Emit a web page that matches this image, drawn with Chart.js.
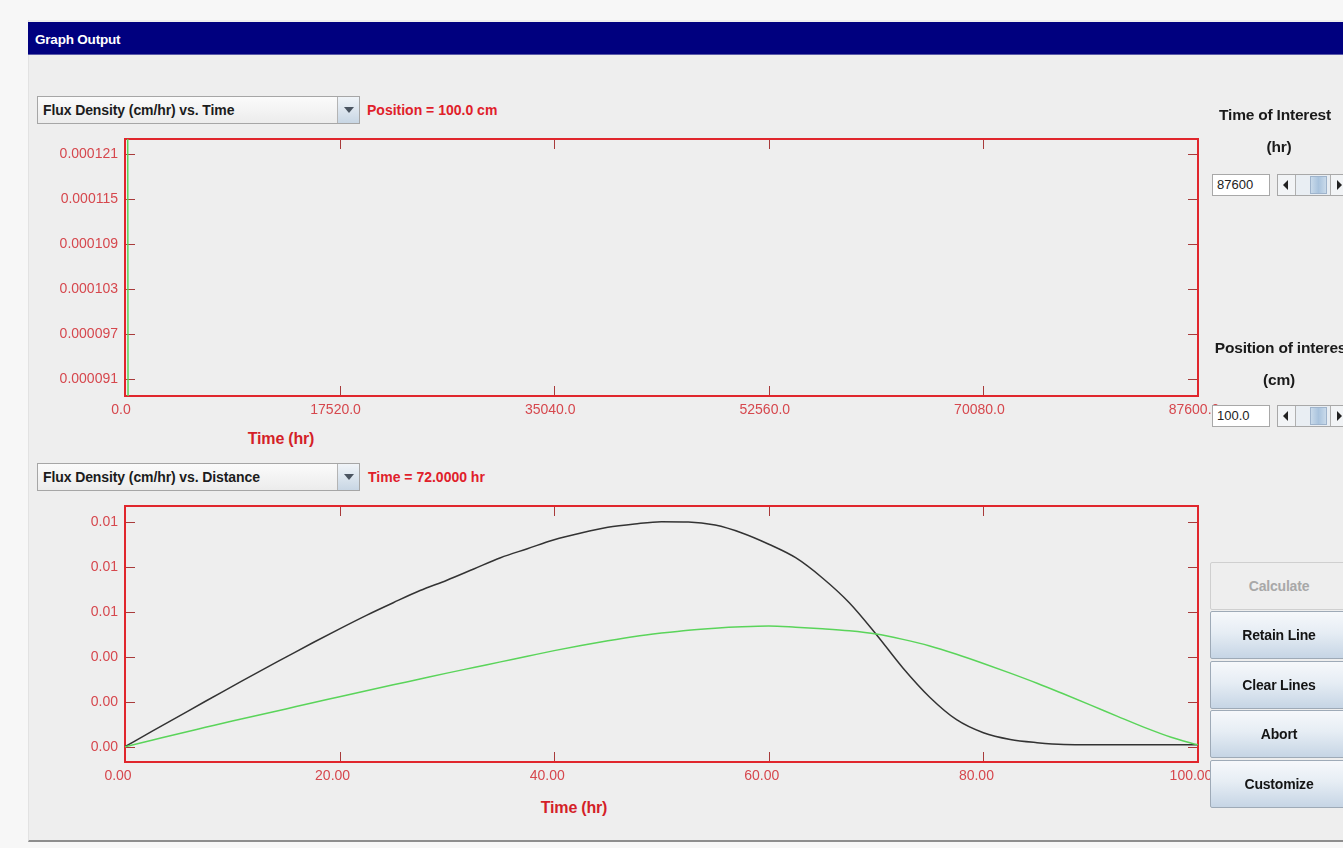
<!DOCTYPE html>
<html>
<head>
<meta charset="utf-8">
<title>Graph Output</title>
<script src="https://cdn.jsdelivr.net/npm/chart.js@4/dist/chart.umd.min.js"></script>
<style>
  html, body { margin: 0; padding: 0; }
  body {
    width: 1343px; height: 848px; overflow: hidden; position: relative;
    background: #f7f7f7;
    font-family: "Liberation Sans", Arial, sans-serif;
  }
  .panel {
    position: absolute; left: 28px; top: 20px; width: 1315px; height: 820px;
    background: #eeeeee; border-bottom: 2px solid #8e8e8e; border-left: 1px solid #e2e2e2;
  }
  .titlebar {
    position: absolute; left: 28px; top: 22px; width: 1315px; height: 33px;
    background: #00007f; border-bottom: 1px solid #5a5aa8; box-sizing: border-box;
  }
  .titlebar span {
    position: absolute; left: 7px; top: 0; line-height: 36px;
    color: #fff; font-weight: bold; font-size: 13.5px; letter-spacing: -0.2px;
  }
  .combo {
    position: absolute; left: 37px; width: 323px; height: 28px; box-sizing: border-box;
    border: 1px solid #a6a6a6; background: linear-gradient(#fbfbfb, #ececec);
  }
  .combo .txt {
    position: absolute; left: 5px; top: 0; line-height: 26px;
    font-weight: bold; font-size: 14px; color: #1c1c1c; letter-spacing: -0.1px; white-space: nowrap;
  }
  .combo .arrow {
    position: absolute; right: 0; top: 0; width: 22px; height: 26px; box-sizing: border-box;
    border-left: 1px solid #b4b4b4; background: linear-gradient(#f0f4f8, #c8d6e4);
  }
  .combo .arrow::after {
    content: ""; position: absolute; left: 6px; top: 10px;
    border-left: 5px solid transparent; border-right: 5px solid transparent; border-top: 6px solid #4a5460;
  }
  .redlbl {
    position: absolute; color: #e0202a; font-weight: bold; font-size: 14px; white-space: nowrap;
  }
  .axtitle {
    position: absolute; color: #d41f28; font-weight: bold; font-size: 16px; white-space: nowrap;
    transform: translate(-50%, -50%); letter-spacing: -0.2px;
  }
  .side {
    position: absolute; font-weight: bold; font-size: 15.5px; color: #1a1a1a; white-space: nowrap;
    transform: translate(-50%, -50%); letter-spacing: -0.2px;
  }
  .field {
    position: absolute; left: 1212px; width: 58px; height: 22px; box-sizing: border-box;
    background: #fff; border: 1px solid #a8a8a8; font-size: 13px; color: #222;
    padding-left: 4px; line-height: 20px; z-index: 3;
  }
  .sb {
    position: absolute; left: 1277px; width: 80px; height: 22px; box-sizing: border-box;
    border: 1px solid #a8a8a8; background: #e9eef3; z-index: 3;
  }
  .sb .la, .sb .ra {
    position: absolute; top: 0; width: 18px; height: 20px; box-sizing: border-box; background: #f2f4f6;
  }
  .sb .la { left: 0; border-right: 1px solid #b0b0b0; }
  .sb .ra { left: 52px; border-left: 1px solid #b0b0b0; }
  .sb .la::after {
    content: ""; position: absolute; left: 5px; top: 5px;
    border-top: 5px solid transparent; border-bottom: 5px solid transparent; border-right: 5px solid #222;
  }
  .sb .ra::after {
    content: ""; position: absolute; left: 6px; top: 5px;
    border-top: 5px solid transparent; border-bottom: 5px solid transparent; border-left: 5px solid #222;
  }
  .sb .th {
    position: absolute; left: 32px; top: 1px; width: 17px; height: 18px; box-sizing: border-box;
    border: 1px solid #9fb4cc; background: linear-gradient(90deg, #c9daea, #a9c3dd, #c9daea);
  }
  .btn {
    position: absolute; left: 1210px; width: 138px; height: 48px; box-sizing: border-box;
    border: 1px solid #9eaab7; border-radius: 2px;
    background: linear-gradient(#f6f8fb 0%, #e6edf4 45%, #c6d5e5 100%);
    font-weight: bold; font-size: 14px; color: #141414; text-align: center; line-height: 46px;
    letter-spacing: -0.2px; z-index: 3;
  }
  .btn.off { background: #eeeeee; color: #a8a8a8; border-color: #cfcfcf; }
  canvas { position: absolute; }
</style>
</head>
<body>
<div class="panel"></div>
<div class="titlebar"><span>Graph Output</span></div>

<div class="combo" style="top:96px;"><div class="txt">Flux Density (cm/hr) vs. Time</div><div class="arrow"></div></div>
<div class="redlbl" style="left:367px; top:102px;">Position = 100.0 cm</div>

<canvas id="timeChart" width="1200" height="311" style="left:30px; top:119px;"></canvas>
<div class="axtitle" style="left:281px; top:439px;">Time (hr)</div>

<div class="combo" style="top:463px;"><div class="txt">Flux Density (cm/hr) vs. Distance</div><div class="arrow"></div></div>
<div class="redlbl" style="left:368px; top:469px;">Time = 72.0000 hr</div>

<canvas id="distChart" width="1200" height="311" style="left:30px; top:486px;"></canvas>
<div class="axtitle" style="left:574px; top:808px;">Time (hr)</div>

<div class="side" style="left:1275px; top:115px;">Time of Interest</div>
<div class="side" style="left:1279px; top:147px;">(hr)</div>
<div class="field" style="top:174px;">87600</div>
<div class="sb" style="top:174px;"><div class="la"></div><div class="th"></div><div class="ra"></div></div>

<div class="side" style="left:1283px; top:348px;">Position of interest</div>
<div class="side" style="left:1279px; top:380px;">(cm)</div>
<div class="field" style="top:405px;">100.0</div>
<div class="sb" style="top:405px;"><div class="la"></div><div class="th"></div><div class="ra"></div></div>

<div class="btn off" style="top:562px;">Calculate</div>
<div class="btn" style="top:611px;">Retain Line</div>
<div class="btn" style="top:661px;">Clear Lines</div>
<div class="btn" style="top:710px;">Abort</div>
<div class="btn" style="top:760px;">Customize</div>

<script>
// Flux density at position 100 cm over the simulated period (hr)
const timeTicks = [0, 17520, 35040, 52560, 70080, 87600];
const timeFluxTicks = [0.000091, 0.000097, 0.000103, 0.000109, 0.000115, 0.000121];
const timeHours = [220, 250, 87600];
const timeFlux = [0.000126, 0.000086, 0.000080];

// Flux density profile along the column (distance in cm)
const distTicks = [0, 20, 40, 60, 80, 100];
const distFluxTicks = [0, 0.002, 0.004, 0.006, 0.008, 0.010];
const distance = [0, 2.5, 5, 7.5, 10, 12.5, 15, 17.5, 20, 22.5, 25, 27.5, 30, 32.5, 35, 37.5, 40,
  42.5, 45, 47.5, 50, 52.5, 55, 57.5, 60, 62.5, 65, 67.5, 70, 72.5, 75, 77.5, 80, 82.5, 85, 87.5,
  90, 92.5, 95, 97.5, 100];
// current line, Time = 72 hr
const fluxCurrent = [0, 0.00068, 0.00135, 0.00202, 0.00268, 0.00334, 0.00398, 0.00462, 0.00524,
  0.00584, 0.0064, 0.00694, 0.0074, 0.0079, 0.0084, 0.0088, 0.0092, 0.0095, 0.00975, 0.0099, 0.0100,
  0.00999, 0.00985, 0.0095, 0.0090, 0.0084, 0.0075, 0.0064, 0.0050, 0.0035, 0.0022, 0.0012, 0.00062,
  0.00032, 0.00018, 0.0001, 0.00009, 0.00009, 0.00009, 0.00009, 0.00009];
// retained line
const fluxRetained = [0, 0.00029, 0.00058, 0.00086, 0.00114, 0.00141, 0.00168, 0.00195, 0.00222,
  0.00249, 0.00275, 0.00301, 0.00327, 0.00352, 0.00377, 0.00402, 0.00427, 0.0045, 0.00471, 0.0049,
  0.00505, 0.00518, 0.00527, 0.00533, 0.00536, 0.00531, 0.00524, 0.00515, 0.00501, 0.00477, 0.00448,
  0.00411, 0.0037, 0.00327, 0.00282, 0.00234, 0.00185, 0.00135, 0.00086, 0.00042, 0.00008];

const FRAME = '#e0262c';
const TICKMARK = '#a83a3a';
const LABEL = '#d6474d';
const tickFont = { family: '"Liberation Sans", Arial, sans-serif', size: 14 };

// red box around the plot area with short inward tick marks on all four sides
const framePlugin = {
  id: 'frame',
  beforeDatasetsDraw(chart) {
    const { ctx, chartArea: a, scales: { x, y } } = chart;
    ctx.save();
    ctx.strokeStyle = TICKMARK;
    ctx.lineWidth = 1;
    ctx.beginPath();
    x.ticks.forEach((t, i) => {
      const px = Math.round(x.getPixelForTick(i)) + 0.5;
      ctx.moveTo(px, a.top); ctx.lineTo(px, a.top + 10);
      ctx.moveTo(px, a.bottom); ctx.lineTo(px, a.bottom - 10);
    });
    y.ticks.forEach((t, i) => {
      const py = Math.round(y.getPixelForTick(i)) + 0.5;
      ctx.moveTo(a.left, py); ctx.lineTo(a.left + 10, py);
      ctx.moveTo(a.right, py); ctx.lineTo(a.right - 10, py);
    });
    ctx.stroke();
    ctx.strokeStyle = FRAME;
    ctx.lineWidth = 2;
    ctx.strokeRect(a.left, a.top, a.right - a.left, a.bottom - a.top);
    ctx.restore();
  }
};

function makeChart(id, datasets, xCfg, yCfg, xHeight) {
  return new Chart(document.getElementById(id), {
    type: 'line',
    data: { datasets },
    plugins: [framePlugin],
    options: {
      responsive: false,
      animation: false,
      devicePixelRatio: 1,
      layout: { padding: { top: 20, right: 32, left: 0, bottom: 0 } },
      plugins: { legend: { display: false }, tooltip: { enabled: false } },
      elements: { point: { radius: 0 } },
      scales: {
        x: {
          type: 'linear', min: xCfg.min, max: xCfg.max,
          afterBuildTicks: s => { s.ticks = xCfg.ticks.map(v => ({ value: v })); },
          afterFit: s => { s.height = xHeight; },
          grid: { display: false, drawTicks: false },
          border: { display: false },
          ticks: {
            color: LABEL, font: tickFont, padding: 6, labelOffset: xCfg.offset,
            maxRotation: 0, autoSkip: false, callback: xCfg.fmt
          }
        },
        y: {
          type: 'linear', min: yCfg.min, max: yCfg.max,
          afterBuildTicks: s => { s.ticks = yCfg.ticks.map(v => ({ value: v })); },
          afterFit: s => { s.width = 95; },
          grid: { display: false, drawTicks: false },
          border: { display: false },
          ticks: { color: LABEL, font: tickFont, padding: 7, autoSkip: false, callback: yCfg.fmt }
        }
      }
    }
  });
}

makeChart('timeChart', [{
    label: 'Flux Density (cm/hr)',
    data: timeHours.map((t, i) => ({ x: t, y: timeFlux[i] })),
    borderColor: '#5ad45a', borderWidth: 1.5
  }],
  { min: 0, max: 87600, ticks: timeTicks, offset: -4, fmt: v => Number(v).toFixed(1) },
  { min: 0.0000888, max: 0.0001230, ticks: timeFluxTicks, fmt: v => Number(v).toFixed(6) },
  34);

makeChart('distChart', [{
    label: 'Retained line',
    data: distance.map((d, i) => ({ x: d, y: fluxRetained[i] })),
    borderColor: '#5ad45a', borderWidth: 1.5, cubicInterpolationMode: 'monotone'
  }, {
    label: 'Time = 72.0000 hr',
    data: distance.map((d, i) => ({ x: d, y: fluxCurrent[i] })),
    borderColor: '#333333', borderWidth: 1.5, cubicInterpolationMode: 'monotone'
  }],
  { min: 0, max: 100, ticks: distTicks, offset: -7, fmt: v => Number(v).toFixed(2) },
  { min: -0.00068, max: 0.010698, ticks: distFluxTicks, fmt: v => Number(v).toFixed(2) },
  35);
</script>
</body>
</html>
